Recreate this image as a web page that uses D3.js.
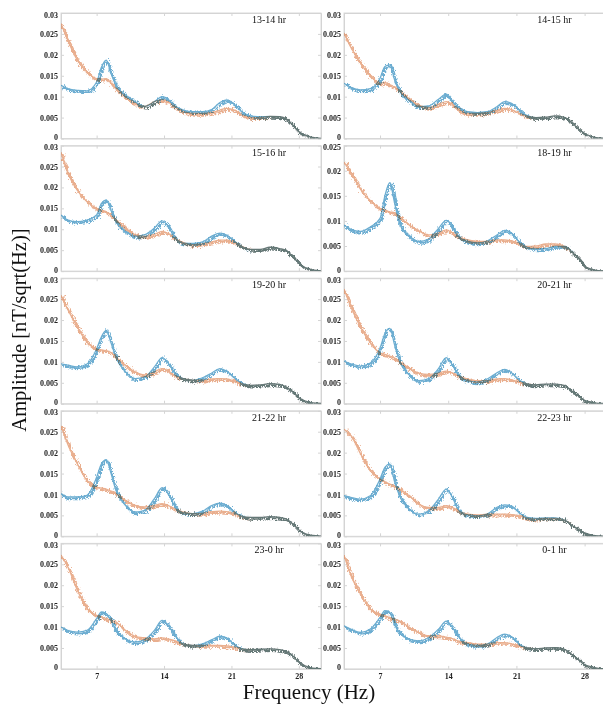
<!DOCTYPE html>
<html>
<head>
<meta charset="utf-8">
<script src="https://cdn.jsdelivr.net/npm/d3@7"></script>
<style>
  body { margin: 0; background: #fff; }
  svg { display: block; font-family: "Liberation Serif", "Times New Roman", serif; }
  .axis path, .axis line { stroke: #d4d4d4; }
  .axis text { font-size: 8px; font-weight: bold; fill: #222; font-family: "Liberation Serif", serif; }
  .trace { mix-blend-mode: multiply; }
</style>
</head>
<body>
<div id="chart"></div>
<script>
var svgWidth = 603;
var svgHeight = 704;

// frequency grid (Hz)
var freq = [3.3, 4, 5, 6, 7, 7.5, 8, 8.5, 9, 10, 11, 12, 13, 13.8, 14.5, 15, 16, 17, 18, 19,
            19.8, 20.5, 21.3, 22, 23, 24, 25, 26, 26.7, 27.4, 28, 28.7, 29.4, 30.3];

var hourLabels = ["13-14 hr", "14-15 hr", "15-16 hr", "18-19 hr", "19-20 hr",
                  "20-21 hr", "21-22 hr", "22-23 hr", "23-0 hr", "0-1 hr"];
var yMax = [30, 30, 30, 25, 30, 30, 30, 30, 30, 30];   // x 0.001
var yTicks = [0, 5, 10, 15, 20, 25, 30];
var yTickLabels = ["0", "0.005", "0.01", "0.015", "0.02", "0.025", "0.03"];
var xTicks = [7, 14, 21, 28];

// amplitudes, units of 0.001 nT/sqrt(Hz)
var orange1314 = [27.5,23.5,18.7,15.9,14.3,14.2,14.3,13.2,11.9,9.9,8.3,7.7,8.8,9.3,8.6,7.7,6.4,6.0,6.0,6.2,6.8,7.2,6.8,5.8,5.0,5.0,5.3,5.2,4.7,3.1,1.6,0.8,0.25,0.05];
var blue1314   = [12.7,11.9,11.5,11.4,13.5,17.0,18.7,15.5,12.7,10.3,8.8,7.7,8.8,10.0,9.2,8.0,6.8,6.4,6.4,7.0,8.6,9.2,8.2,6.6,5.4,5.2,5.3,5.2,4.7,3.1,1.6,0.8,0.25,0.05];
var orange1415 = [25.2,21.8,18.0,15.0,13.2,13.4,12.8,12.3,11.4,9.5,7.9,7.4,8.2,8.8,8.0,7.0,6.0,6.0,6.2,6.7,7.2,6.9,6.0,5.4,5.0,5.1,5.4,5.0,3.8,2.2,1.2,0.5,0.15,0.05];
var blue1415   = [13.2,12.2,11.6,11.9,14.4,17.2,17.6,14.0,11.3,9.1,7.6,7.8,9.4,10.6,8.6,7.6,6.4,6.2,6.4,7.6,8.8,8.4,6.8,5.6,5.0,5.1,5.4,5.0,3.8,2.2,1.2,0.5,0.15,0.05];
var orange1516 = [28.4,23.5,19.3,16.6,15.0,14.6,14.2,13.3,12.2,10.3,8.7,8.3,8.8,9.5,8.9,8.0,6.8,6.3,6.5,7.0,7.4,7.4,6.9,6.0,5.2,5.2,5.7,5.4,4.9,3.4,1.9,0.8,0.3,0.05];
var blue1516   = [13.4,12.2,11.8,12.2,13.4,16.2,17.0,14.5,11.8,9.5,8.3,8.7,10.3,12.0,10.5,8.4,6.7,6.6,7.0,8.4,9.1,8.6,7.2,6.0,5.2,5.2,5.7,5.4,4.9,3.4,1.9,0.8,0.3,0.05];
var orange1819 = [21.7,19.6,16.3,14.0,12.5,12.2,11.8,11.6,10.8,9.2,8.0,7.2,7.6,8.2,7.5,6.9,6.2,5.9,5.9,6.2,6.2,6.0,5.5,4.9,5.0,5.4,5.4,4.9,3.8,2.5,1.0,0.35,0.1,0.03];
var blue1819   = [9.2,8.3,7.9,8.8,10.5,15.0,17.6,13.5,9.5,7.0,5.9,6.4,8.5,10.1,8.6,7.0,5.9,5.6,6.0,7.2,8.1,7.6,5.8,4.8,4.4,4.5,4.9,4.9,3.8,2.5,1.0,0.35,0.1,0.03];
var orange1920 = [25.9,22.5,18.3,14.7,13.1,12.8,12.7,12.2,11.1,9.2,7.6,6.9,7.6,8.4,7.7,6.9,6.0,5.6,5.6,5.9,6.0,5.9,5.4,4.8,4.4,4.5,4.8,4.6,4.0,2.8,1.4,0.6,0.2,0.05];
var blue1920   = [9.5,9.2,8.8,9.5,13.1,16.0,17.5,14.5,11.1,7.6,6.0,6.4,8.8,11.0,9.5,7.7,6.0,5.6,6.2,7.4,8.4,7.8,6.2,5.0,4.4,4.5,4.8,4.6,4.0,2.8,1.4,0.6,0.2,0.05];
var orange2021 = [27.4,23.2,18.3,14.6,12.1,11.8,11.4,10.9,10.0,8.5,7.3,7.0,7.3,7.8,7.3,6.7,5.9,5.5,5.5,5.9,6.0,5.7,5.2,4.8,4.5,4.7,4.7,4.3,3.0,1.8,0.8,0.4,0.1,0.03];
var blue2021   = [10.2,9.5,9.0,9.7,13.3,16.8,18.0,14.0,10.2,6.9,5.5,6.0,8.4,11.0,9.0,7.0,5.5,5.2,5.9,7.4,8.2,7.4,5.6,4.8,4.5,4.7,4.7,4.3,3.0,1.8,0.8,0.4,0.1,0.03];
var orange2122 = [26.4,22.0,17.3,13.3,11.7,11.5,11.3,10.8,10.2,8.6,7.4,7.0,7.4,7.8,7.3,6.7,5.8,5.4,5.5,5.9,6.0,5.9,5.4,4.8,4.5,4.5,4.7,4.5,4.1,2.9,1.5,0.6,0.2,0.05];
var blue2122   = [10.2,9.4,9.4,9.8,14.1,17.3,18.3,15.0,11.0,7.4,5.8,6.2,9.0,11.6,10.0,7.6,5.6,5.4,6.0,7.4,7.9,7.4,5.8,4.9,4.5,4.5,4.7,4.5,4.1,2.9,1.5,0.6,0.2,0.05];
var orange2223 = [25.6,24.1,19.7,15.7,13.7,13.0,12.5,12.0,11.3,9.7,7.7,6.9,6.9,7.3,6.8,6.1,5.3,5.1,5.3,5.3,5.3,5.2,4.9,4.4,4.1,4.3,4.3,3.8,2.6,1.6,0.8,0.3,0.1,0.03];
var blue2223   = [9.7,9.3,8.9,9.7,13.7,16.5,17.3,13.0,9.7,6.5,5.3,6.1,8.9,11.3,9.0,6.5,5.1,4.9,5.3,6.9,7.5,7.2,5.6,4.6,4.3,4.4,4.4,3.8,2.6,1.6,0.8,0.3,0.1,0.03];
var orange2300 = [27.2,24.4,18.8,14.4,12.8,12.4,12.0,11.6,11.2,9.2,7.8,7.4,7.2,7.4,7.1,6.8,6.0,5.6,5.6,5.6,5.6,5.5,5.2,4.8,4.6,4.7,4.8,4.6,4.2,3.0,1.6,0.7,0.2,0.05];
var blue2300   = [10.0,9.2,8.8,9.2,12.0,13.6,13.2,11.6,9.2,7.2,6.4,7.0,9.2,11.6,10.2,8.4,6.0,5.6,6.0,7.0,7.8,7.4,5.8,4.9,4.6,4.7,4.8,4.6,4.2,3.0,1.6,0.7,0.2,0.05];
var orange0001 = [27.2,22.4,17.9,14.3,13.1,12.7,12.3,11.8,11.5,9.9,8.7,7.9,7.9,7.6,7.2,6.7,6.3,5.9,5.9,6.3,6.3,6.0,5.5,5.1,4.8,5.0,5.1,4.6,3.4,2.2,1.0,0.5,0.15,0.05];
var blue0001   = [10.3,9.5,8.7,9.5,12.3,13.9,13.5,10.5,8.7,7.1,6.7,7.5,9.5,11.4,9.7,7.9,5.9,5.6,5.9,7.5,8.3,7.7,5.9,5.1,4.8,5.0,5.1,4.6,3.4,2.2,1.0,0.5,0.15,0.05];

var orangeSeries = [orange1314, orange1415, orange1516, orange1819, orange1920,
                    orange2021, orange2122, orange2223, orange2300, orange0001];
var blueSeries = [blue1314, blue1415, blue1516, blue1819, blue1920,
                  blue2021, blue2122, blue2223, blue2300, blue0001];

// layout
var colLeft = [61, 344];
var colWidth = [260, 263];
var rowTop0 = 13, rowStep = 132.6, panelH = 125.5;

var svg = d3.select("#chart").append("svg")
  .attr("width", svgWidth)
  .attr("height", svgHeight);

// rough, spiky look of the measured spectra
var defs = svg.append("defs");
var filt = defs.append("filter").attr("id", "noisy")
  .attr("x", "-3%").attr("y", "-15%").attr("width", "106%").attr("height", "130%");
filt.append("feTurbulence").attr("type", "turbulence")
  .attr("baseFrequency", "1.3 0.3").attr("numOctaves", 2).attr("seed", 4).attr("result", "t");
filt.append("feDisplacementMap").attr("in", "SourceGraphic").attr("in2", "t")
  .attr("scale", 5.5).attr("xChannelSelector", "R").attr("yChannelSelector", "G");

hourLabels.forEach(function(label, i) {
  var col = i % 2, row = Math.floor(i / 2);
  var w = colWidth[col], h = panelH;
  var g = svg.append("g")
    .attr("transform", `translate(${colLeft[col]}, ${rowTop0 + row * rowStep})`);

  var x = d3.scaleLinear().domain([3.3, 30.3]).range([0, w]);
  var y = d3.scaleLinear().domain([0, yMax[i]]).range([h, 0]);

  defs.append("clipPath").attr("id", "clip" + i)
    .append("rect").attr("width", w).attr("height", h);

  // box
  g.append("rect")
    .attr("width", w).attr("height", h)
    .attr("fill", "none").attr("stroke", "#dadada");

  // y axis
  var ticks = yTicks.filter(function(t) { return t <= yMax[i]; });
  var yAxisG = g.append("g").attr("class", "axis")
    .call(d3.axisLeft(y).tickValues(ticks).tickSizeInner(-3).tickSizeOuter(0).tickPadding(3)
      .tickFormat(function(d) { return yTickLabels[yTicks.indexOf(d)]; }));
  // nudge the end labels so stacked panels don't collide
  yAxisG.selectAll(".tick text")
    .attr("y", function(d) { return d === 0 ? -1.5 : (d === yMax[i] ? 1.5 : 0); });
  g.append("g").attr("class", "axis")
    .attr("transform", `translate(${w}, 0)`)
    .call(d3.axisRight(y).tickValues(ticks).tickSizeInner(-3).tickSizeOuter(0).tickFormat(""));

  // x axes (top without labels, bottom labelled only on last row)
  g.append("g").attr("class", "axis")
    .call(d3.axisTop(x).tickValues(xTicks).tickSizeInner(-3).tickSizeOuter(0).tickFormat(""));
  var bottom = d3.axisBottom(x).tickValues(xTicks).tickSizeInner(-3).tickSizeOuter(0).tickPadding(4);
  if (row < 4) bottom.tickFormat("");
  g.append("g").attr("class", "axis")
    .attr("transform", `translate(0, ${h})`)
    .call(bottom);

  var line = d3.line()
    .x(function(d, k) { return x(freq[k]); })
    .y(function(d) { return y(d); })
    .curve(d3.curveMonotoneX);

  var plot = g.append("g").attr("clip-path", `url(#clip${i})`);
  [[blueSeries[i], "#3a92c2", 0.75], [orangeSeries[i], "#de8453", 0.65]].forEach(function(s) {
    var tr = plot.append("g").attr("class", "trace").attr("opacity", s[2]);
    tr.append("path").datum(s[0])
      .attr("d", line)
      .attr("fill", "none").attr("stroke", s[1])
      .attr("stroke-width", 1.3);
    tr.append("path").datum(s[0])
      .attr("d", line)
      .attr("fill", "none").attr("stroke", s[1])
      .attr("stroke-width", 2.6)
      .attr("filter", "url(#noisy)");
  });

  g.append("text")
    .attr("x", w * 0.8).attr("y", 10)
    .attr("text-anchor", "middle")
    .attr("font-family", "Liberation Serif, serif")
    .attr("font-size", "10px").attr("fill", "#111")
    .text(label);
});

// axis titles
svg.append("text")
  .attr("transform", "translate(26, 330) rotate(-90)")
  .attr("text-anchor", "middle")
  .attr("font-family", "Liberation Serif, serif")
  .attr("font-size", "20.5px").attr("fill", "#111")
  .text("Amplitude [nT/sqrt(Hz)]");

svg.append("text")
  .attr("x", 309).attr("y", 699)
  .attr("text-anchor", "middle")
  .attr("font-family", "Liberation Serif, serif")
  .attr("font-size", "21px").attr("fill", "#111")
  .text("Frequency (Hz)");
</script>
</body>
</html>
